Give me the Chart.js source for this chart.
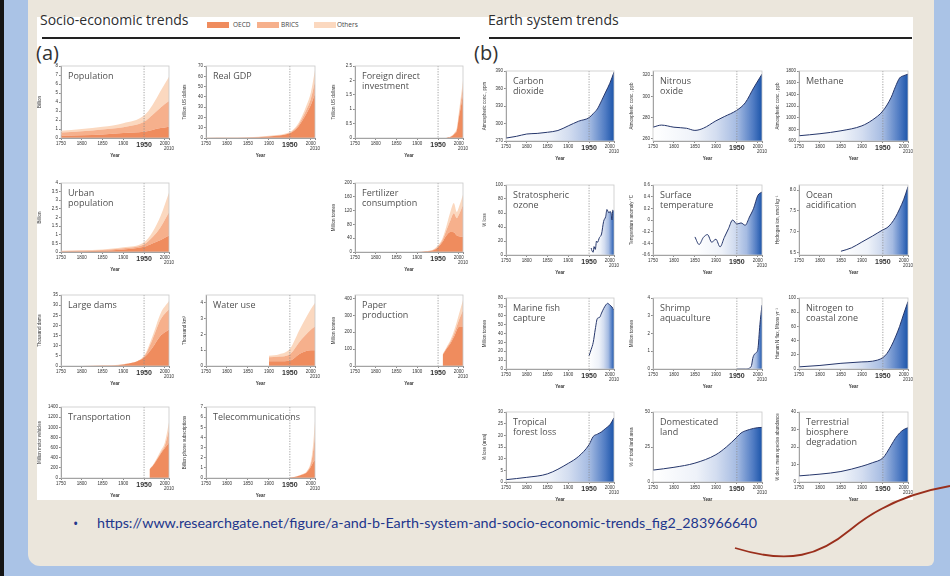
<!DOCTYPE html>
<html>
<head>
<meta charset="utf-8">
<script src="https://cdn.jsdelivr.net/npm/chart.js@4.4.1/dist/chart.umd.min.js"></script>
<style>
html, body { margin: 0; padding: 0; }
body { width: 950px; height: 576px; position: relative; overflow: hidden; background: #aac3e6; font-family: 'Open Sans', sans-serif; }
#edge { position: absolute; left: 0; top: 0; width: 4px; height: 576px; background: #141414; }
#paper { position: absolute; left: 28px; top: 0; width: 906px; height: 566px; background: #ebe6dc; border-radius: 0 0 6px 12px; }
#fig { position: absolute; left: 37px; top: 17px; width: 876px; height: 483px; background: #fff; }
.head { position: absolute; font-size: 14px; color: #2e2e2e; white-space: nowrap; }
.rule { position: absolute; height: 2px; background: #222; }
.tag { position: absolute; font-size: 20px; color: #333; }
.sw { position: absolute; width: 22px; height: 6px; }
.lg { position: absolute; font-size: 6.5px; color: #444; }
.ptitle { position: absolute; font-size: 9px; line-height: 10px; color: #505050; white-space: nowrap; }
canvas { position: absolute; }
#bullet { position: absolute; left: 73px; top: 514px; font-size: 14px; color: #22368c; }
#link { position: absolute; left: 97px; top: 514px; font-family: 'Lato', sans-serif; font-size: 14.3px; color: #22368c; white-space: nowrap; }
svg { position: absolute; left: 0; top: 0; }
</style>
</head>
<body>
<div id="edge"></div>
<div id="paper"></div>
<div id="fig"></div>
<svg width="950" height="576"><path d="M950 486 C 915 492, 880 505, 850 530 S 790 565, 735 548" fill="none" stroke="#9a2f1c" stroke-width="1.8"/></svg>

<div class="head" style="left:40px;top:10px;">Socio-economic trends</div>
<div class="sw" style="left:207px;top:22px;background:#ef8c5e;"></div><div class="lg" style="left:233px;top:20px;">OECD</div>
<div class="sw" style="left:257px;top:22px;background:#f6b08c;"></div><div class="lg" style="left:281px;top:20px;">BRICS</div>
<div class="sw" style="left:314px;top:22px;background:#fbd8bf;"></div><div class="lg" style="left:337px;top:20px;">Others</div>
<div class="rule" style="left:42px;top:37px;width:418px;"></div>
<div class="head" style="left:488px;top:10px;">Earth system trends</div>
<div class="rule" style="left:489px;top:37px;width:423px;"></div>
<div class="tag" style="left:36px;top:39px;">(a)</div>
<div class="tag" style="left:474px;top:39px;">(b)</div>
<div id="bullet">•</div>
<div id="link">https://www.researchgate.net/figure/a-and-b-Earth-system-and-socio-economic-trends_fig2_283966640</div>

<script>
// ---- socio-economic data (OECD / BRICS / Others, stacked) ----
const xTicks = [1750, 1800, 1850, 1900, 1950, 2000, 2010];

const popYears = [1750, 1800, 1850, 1900, 1950, 1970, 1990, 2010];
const popOECD = [0.25, 0.3, 0.4, 0.55, 0.7, 0.9, 1.1, 1.25];
const popBRICS = [0.35, 0.45, 0.55, 0.65, 1.1, 1.65, 2.3, 2.85];
const popOthers = [0.2, 0.25, 0.3, 0.45, 0.7, 1.1, 1.85, 2.7];

const gdpYears = [1750, 1800, 1850, 1900, 1950, 1960, 1970, 1980, 1990, 2000, 2010];
const gdpOECD = [0.1, 0.2, 0.4, 1.5, 4.5, 7, 11, 17, 24, 32, 43];
const gdpBRICS = [0.1, 0.1, 0.15, 0.3, 0.7, 1, 1.5, 2.5, 4, 6, 12];
const gdpOthers = [0.1, 0.1, 0.15, 0.3, 0.6, 0.9, 1.5, 2.5, 4, 6, 11];

const fdiYears = [1970, 1980, 1990, 1995, 2000, 2005, 2010];
const fdiOECD = [0.01, 0.04, 0.15, 0.25, 0.7, 1.1, 1.5];
const fdiBRICS = [0, 0.005, 0.02, 0.05, 0.1, 0.2, 0.3];
const fdiOthers = [0, 0.005, 0.02, 0.04, 0.08, 0.15, 0.2];

const urbYears = [1750, 1800, 1850, 1900, 1950, 1970, 1990, 2010];
const urbOECD = [0.03, 0.04, 0.07, 0.15, 0.3, 0.5, 0.7, 0.95];
const urbBRICS = [0.03, 0.04, 0.05, 0.07, 0.15, 0.35, 0.75, 1.35];
const urbOthers = [0.01, 0.02, 0.03, 0.05, 0.12, 0.3, 0.65, 1.15];

const ferYears = [1900, 1920, 1940, 1950, 1960, 1970, 1980, 1988, 1995, 2000, 2010];
const ferOECD = [0, 2, 6, 14, 28, 48, 58, 57, 48, 46, 44];
const ferBRICS = [0, 0, 1, 3, 5, 15, 35, 55, 50, 62, 92];
const ferOthers = [0, 0, 1, 3, 5, 12, 25, 30, 18, 22, 30];

const damYears = [1750, 1800, 1850, 1900, 1950, 1970, 1990, 2010];
const damOECD = [0, 0, 0.2, 0.8, 4.2, 9, 15, 18];
const damBRICS = [0, 0, 0, 0.1, 0.5, 4, 8, 10];
const damOthers = [0, 0, 0, 0.1, 0.4, 1.5, 3, 4];

const watYears = [1900, 1925, 1950, 1975, 2000, 2010];
const watOECD = [0.3, 0.3, 0.35, 0.8, 1.0, 1.0];
const watBRICS = [0.25, 0.3, 0.4, 0.8, 1.3, 1.5];
const watOthers = [0.1, 0.15, 0.35, 0.8, 1.3, 1.5];

const papYears = [1961, 1970, 1980, 1990, 2000, 2010];
const papOECD = [65, 100, 135, 180, 230, 230];
const papBRICS = [3, 5, 10, 20, 40, 100];
const papOthers = [2, 5, 10, 20, 35, 60];

const traYears = [1963, 1970, 1980, 1990, 2000, 2010];
const traOECD = [170, 230, 350, 480, 590, 700];
const traBRICS = [2, 4, 10, 20, 50, 250];
const traOthers = [5, 10, 20, 35, 60, 150];

const telYears = [1950, 1960, 1970, 1980, 1990, 2000, 2005, 2010];
const telOECD = [0.05, 0.1, 0.2, 0.35, 0.55, 1.1, 1.5, 1.8];
const telBRICS = [0, 0, 0.01, 0.02, 0.05, 0.3, 1.0, 2.4];
const telOthers = [0, 0, 0.01, 0.02, 0.05, 0.2, 0.6, 1.4];

// ---- earth system data ----
const co2Years = [1750, 1775, 1800, 1825, 1850, 1875, 1900, 1925, 1950, 1960, 1970, 1980, 1990, 2000, 2010];
const co2Vals = [275, 278, 282, 283, 285, 288, 296, 304, 310, 317, 325, 339, 354, 369, 388];

const n2oYears = [1750, 1770, 1800, 1830, 1850, 1870, 1900, 1920, 1950, 1970, 1990, 2010];
const n2oVals = [271, 273, 271, 270, 268, 270, 277, 281, 287, 294, 308, 321];

const ch4Years = [1750, 1800, 1850, 1900, 1925, 1950, 1970, 1980, 1990, 2000, 2010];
const ch4Vals = [690, 725, 775, 860, 960, 1115, 1350, 1530, 1680, 1720, 1745];

const ozoYears = [1955, 1957, 1960, 1962, 1965, 1968, 1970, 1975, 1980, 1985, 1990, 1993, 1995, 1998, 2000, 2003, 2005, 2007, 2010];
const ozoVals = [10, 6, 4, 12, 8, 20, 18, 25, 30, 48, 55, 65, 63, 60, 62, 60, 50, 64, 62];

const tmpYears = [1850, 1860, 1870, 1880, 1890, 1900, 1910, 1920, 1930, 1940, 1950, 1960, 1970, 1980, 1990, 2000, 2010];
const tmpVals = [-0.29, -0.42, -0.3, -0.25, -0.38, -0.33, -0.46, -0.3, -0.15, 0.0, -0.07, -0.05, -0.09, 0.05, 0.2, 0.42, 0.48];

const ocnYears = [1850, 1875, 1900, 1925, 1950, 1960, 1970, 1980, 1990, 2000, 2010];
const ocnVals = [6.54, 6.62, 6.76, 6.9, 7.05, 7.1, 7.2, 7.35, 7.55, 7.78, 8.08];

const fisYears = [1950, 1955, 1960, 1965, 1970, 1975, 1980, 1985, 1990, 1995, 2000, 2005, 2010];
const fisVals = [15, 22, 30, 45, 57, 58, 63, 68, 72, 74, 72, 70, 66];

const shrYears = [1950, 1970, 1980, 1985, 1988, 1990, 1995, 2000, 2005, 2010];
const shrVals = [0, 0, 0.05, 0.2, 0.6, 0.75, 0.9, 1.1, 2.5, 3.6];

const nitYears = [1750, 1800, 1850, 1900, 1925, 1950, 1960, 1970, 1980, 1990, 2000, 2010];
const nitVals = [3, 5, 8, 10, 11, 16, 22, 32, 45, 60, 78, 95];

const troYears = [1750, 1800, 1850, 1900, 1925, 1950, 1960, 1970, 1980, 1990, 2000, 2010];
const troVals = [1, 2, 3.5, 8, 11, 16, 19.5, 20.5, 21.5, 23, 24.5, 27.5];

const domYears = [1750, 1800, 1850, 1900, 1925, 1950, 1960, 1970, 1980, 1990, 2000, 2010];
const domVals = [8.5, 10.5, 13.5, 19.5, 25, 32, 35, 36.5, 37.5, 38.3, 38.8, 39];

const terYears = [1750, 1800, 1850, 1900, 1925, 1950, 1960, 1970, 1980, 1990, 2000, 2010];
const terVals = [3.5, 4.5, 6, 9, 11, 13.7, 17, 21, 25, 28, 30, 31];

// ---- panel definitions ----
const socioPanels = [
  { title: 'Population', y: 'Billion', years: popYears, s: [popOECD, popBRICS, popOthers], min: 0, max: 8, ticks: [0, 1, 2, 3, 4, 5, 6, 7, 8], r: 0, c: 0 },
  { title: 'Real GDP', y: 'Trillion US dollars', years: gdpYears, s: [gdpOECD, gdpBRICS, gdpOthers], min: 0, max: 70, ticks: [0, 10, 20, 30, 40, 50, 60, 70], r: 0, c: 1 },
  { title: 'Foreign direct<br>investment', y: 'Trillion US dollars', years: fdiYears, s: [fdiOECD, fdiBRICS, fdiOthers], min: 0, max: 2.5, ticks: [0, 0.5, 1, 1.5, 2, 2.5], r: 0, c: 2 },
  { title: 'Urban<br>population', y: 'Billion', years: urbYears, s: [urbOECD, urbBRICS, urbOthers], min: 0, max: 4, ticks: [0, 0.5, 1, 1.5, 2, 2.5, 3, 3.5, 4], r: 1, c: 0 },
  { title: 'Fertilizer<br>consumption', y: 'Million tonnes', years: ferYears, s: [ferOECD, ferBRICS, ferOthers], min: 0, max: 200, ticks: [0, 40, 80, 120, 160, 200], r: 1, c: 2 },
  { title: 'Large dams', y: 'Thousand dams', years: damYears, s: [damOECD, damBRICS, damOthers], min: 0, max: 35, ticks: [0, 5, 10, 15, 20, 25, 30, 35], r: 2, c: 0 },
  { title: 'Water use', y: 'Thousand km³', years: watYears, s: [watOECD, watBRICS, watOthers], min: 0, max: 4.5, ticks: [0, 0.5, 1, 1.5, 2, 2.5, 3, 3.5, 4, 4.5], r: 2, c: 1 },
  { title: 'Paper<br>production', y: 'Million tonnes', years: papYears, s: [papOECD, papBRICS, papOthers], min: 0, max: 420, ticks: [0, 100, 200, 300, 400], r: 2, c: 2 },
  { title: 'Transportation', y: 'Million motor vehicles', years: traYears, s: [traOECD, traBRICS, traOthers], min: 0, max: 1400, ticks: [0, 200, 400, 600, 800, 1000, 1200, 1400], r: 3, c: 0 },
  { title: 'Telecommunications', y: 'Billion phone subscriptions', years: telYears, s: [telOECD, telBRICS, telOthers], min: 0, max: 7, ticks: [0, 1, 2, 3, 4, 5, 6, 7], r: 3, c: 1 }
];

const earthPanels = [
  { title: 'Carbon<br>dioxide', y: 'Atmospheric conc., ppm', years: co2Years, v: co2Vals, min: 270, max: 390, ticks: [270, 300, 330, 360, 390], r: 0, c: 0 },
  { title: 'Nitrous<br>oxide', y: 'Atmospheric conc., ppb', years: n2oYears, v: n2oVals, min: 258, max: 324, ticks: [260, 280, 300, 320], r: 0, c: 1 },
  { title: 'Methane', y: 'Atmospheric conc., ppb', years: ch4Years, v: ch4Vals, min: 600, max: 1800, ticks: [600, 800, 1000, 1200, 1400, 1600, 1800], r: 0, c: 2 },
  { title: 'Stratospheric<br>ozone', y: '% loss', years: ozoYears, v: ozoVals, min: 0, max: 100, ticks: [0, 20, 40, 60, 80, 100], r: 1, c: 0 },
  { title: 'Surface<br>temperature', y: 'Temperature anomaly °C', years: tmpYears, v: tmpVals, min: -0.6, max: 0.6, ticks: [-0.6, -0.4, -0.2, 0, 0.2, 0.4, 0.6], r: 1, c: 1 },
  { title: 'Ocean<br>acidification', y: 'Hydrogen ion, nmol kg⁻¹', years: ocnYears, v: ocnVals, min: 6.45, max: 8.12, ticks: [6.5, 7, 7.5, 8], dec: 1, r: 1, c: 2 },
  { title: 'Marine fish<br>capture', y: 'Million tonnes', years: fisYears, v: fisVals, min: 0, max: 80, ticks: [0, 10, 20, 30, 40, 50, 60, 70, 80], r: 2, c: 0 },
  { title: 'Shrimp<br>aquaculture', y: 'Million tonnes', years: shrYears, v: shrVals, min: 0, max: 4, ticks: [0, 1, 2, 3, 4], r: 2, c: 1 },
  { title: 'Nitrogen to<br>coastal zone', y: 'Human N flux, Mtons yr⁻¹', years: nitYears, v: nitVals, min: 0, max: 100, ticks: [0, 20, 40, 60, 80, 100], r: 2, c: 2 },
  { title: 'Tropical<br>forest loss', y: '% loss (area)', years: troYears, v: troVals, min: 0, max: 30, ticks: [0, 5, 10, 15, 20, 25, 30], r: 3, c: 0 },
  { title: 'Domesticated<br>land', y: '% of total land area', years: domYears, v: domVals, min: 0, max: 50, ticks: [0, 25, 50], r: 3, c: 1 },
  { title: 'Terrestrial<br>biosphere<br>degradation', y: '% decr. mean species abundance', years: terYears, v: terVals, min: 0, max: 40, ticks: [0, 10, 20, 30, 40], r: 3, c: 2 }
];

// plot-area positions on the page
const socioCols = [[61, 169], [206, 315], [355, 463]];
const socioRows = [[66, 138], [183, 252], [295, 366], [407, 478]];
const earthCols = [[506, 614], [653, 762], [799, 908]];
const earthRows = [[71, 141], [185, 255], [298, 369], [412, 482]];

const Y_W = 24, X_H = 20, PAD_T = 4, PAD_R = 8;
const orange = ['#ef8c5e', '#f6b08c', '#fbd8bf'];

const pts = (xs, ys) => xs.map((x, i) => ({ x: x, y: ys[i] }));

// frame around plot + dotted 1950 marker
const framePlugin = {
  id: 'frame',
  afterDatasetsDraw(chart) {
    const a = chart.chartArea, ctx = chart.ctx;
    const x = chart.scales.x.getPixelForValue(1950);
    ctx.save();
    ctx.strokeStyle = '#8a8a8a';
    ctx.lineWidth = 0.8;
    ctx.setLineDash([1.2, 1.4]);
    ctx.beginPath(); ctx.moveTo(x, a.top); ctx.lineTo(x, a.bottom); ctx.stroke();
    ctx.setLineDash([]);
    ctx.strokeStyle = '#c9c9c9';
    ctx.lineWidth = 0.8;
    ctx.strokeRect(a.left, a.top, a.right - a.left, a.bottom - a.top);
    ctx.restore();
  }
};

function blueFill(ctx) {
  const chart = ctx.chart, a = chart.chartArea;
  if (!a) return 'rgba(0,0,0,0)';
  const first = chart.data.datasets[ctx.datasetIndex].data[0].x;
  const x0 = chart.scales.x.getPixelForValue(first);
  const g = chart.ctx.createLinearGradient(x0, 0, a.right, 0);
  g.addColorStop(0, '#ffffff');
  g.addColorStop(0.4, '#eef2f9');
  g.addColorStop(0.58, '#d3ddf0');
  g.addColorStop(0.77, '#a5bbe2');
  g.addColorStop(0.92, '#4f7bc3');
  g.addColorStop(1, '#1c55aa');
  return g;
}

function scalesFor(p, stacked) {
  return {
    x: {
      type: 'linear', min: 1750, max: 2010,
      afterBuildTicks: ax => { ax.ticks = xTicks.map(v => ({ value: v })); },
      afterFit: ax => { ax.height = X_H; },
      ticks: {
        autoSkip: false, maxRotation: 0, padding: 1, color: '#333',
        font: c => (c.tick && c.tick.value === 1950) ? { size: 7, weight: 'bold' } : { size: 4.5 },
        callback: v => v === 2010 ? ['', '2010'] : String(v)
      },
      grid: { drawOnChartArea: false, tickLength: 2, color: '#8a8a8a' },
      border: { color: '#8a8a8a' },
      title: { display: true, text: 'Year', color: '#333', font: { size: 4.5, weight: 'bold' }, padding: 0 }
    },
    y: {
      stacked: stacked, min: p.min, max: p.max,
      afterBuildTicks: ax => { ax.ticks = p.ticks.map(v => ({ value: v })); },
      afterFit: ax => { ax.width = Y_W; },
      ticks: {
        color: '#333', font: { size: 4.5 }, padding: 1,
        callback: v => p.dec ? v.toFixed(p.dec) : String(v)
      },
      grid: { drawOnChartArea: false, tickLength: 2, color: '#8a8a8a' },
      border: { color: '#8a8a8a' },
      title: { display: true, text: p.y, color: '#333', font: { size: 4.5 }, padding: 0 }
    }
  };
}

function place(p, cols, rows) {
  const [l, r] = cols[p.c], [t, b] = rows[p.r];
  const cv = document.createElement('canvas');
  cv.width = (r - l) + Y_W + PAD_R;
  cv.height = (b - t) + PAD_T + X_H;
  cv.style.left = (l - Y_W) + 'px';
  cv.style.top = (t - PAD_T) + 'px';
  document.body.appendChild(cv);
  const tt = document.createElement('div');
  tt.className = 'ptitle';
  tt.innerHTML = p.title;
  tt.style.left = (l + 7) + 'px';
  tt.style.top = (t + 5) + 'px';
  document.body.appendChild(tt);
  return cv;
}

const baseOpts = {
  responsive: false, animation: false,
  layout: { padding: { top: PAD_T, right: PAD_R, left: 0, bottom: 0 }, autoPadding: false },
  plugins: { legend: { display: false }, tooltip: { enabled: false } }
};

socioPanels.forEach(p => {
  const cv = place(p, socioCols, socioRows);
  new Chart(cv, {
    type: 'line',
    data: {
      datasets: ['OECD', 'BRICS', 'Others'].map((name, i) => ({
        label: name,
        data: pts(p.years, p.s[i]),
        backgroundColor: orange[i],
        borderWidth: 0,
        pointRadius: 0,
        fill: i === 0 ? 'origin' : '-1',
        cubicInterpolationMode: 'monotone'
      }))
    },
    options: Object.assign({}, baseOpts, { scales: scalesFor(p, true) }),
    plugins: [framePlugin]
  });
});

earthPanels.forEach(p => {
  const cv = place(p, earthCols, earthRows);
  new Chart(cv, {
    type: 'line',
    data: {
      datasets: [{
        data: pts(p.years, p.v),
        borderColor: '#24356a',
        borderWidth: 1,
        backgroundColor: blueFill,
        pointRadius: 0,
        fill: 'start',
        cubicInterpolationMode: 'monotone'
      }]
    },
    options: Object.assign({}, baseOpts, { scales: scalesFor(p, false) }),
    plugins: [framePlugin]
  });
});
</script>
</body>
</html>
